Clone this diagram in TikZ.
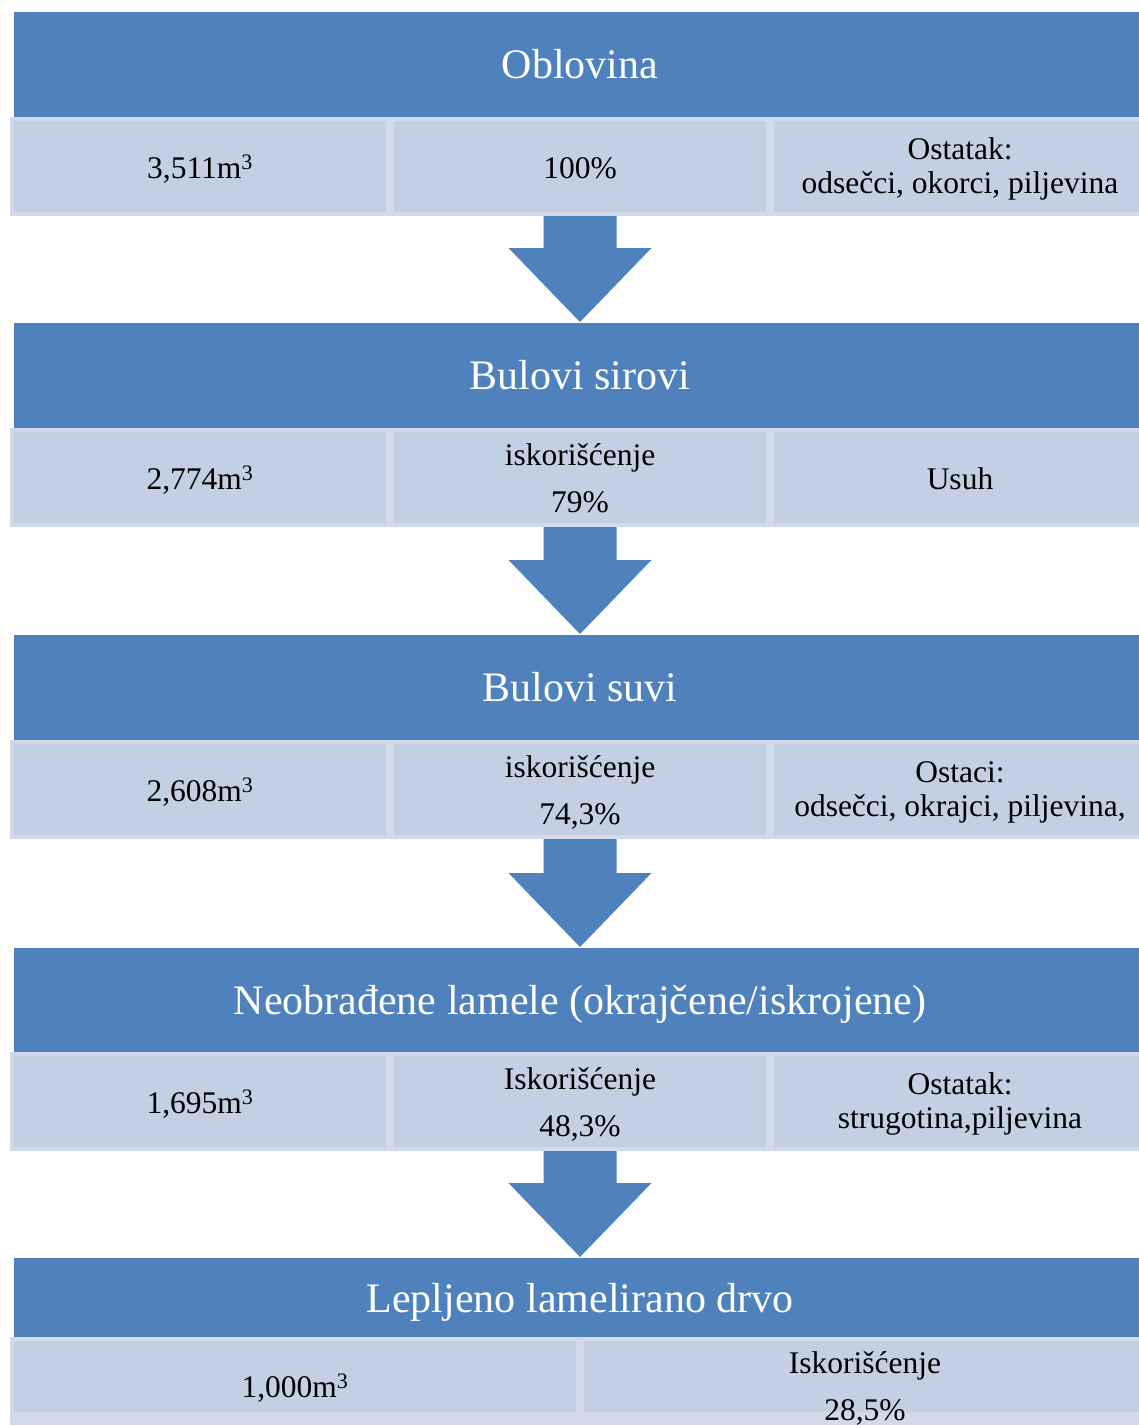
\documentclass[tikz,border=0pt]{standalone}
\usepackage{fontspec}
\setmainfont{Liberation Serif}
\usetikzlibrary{calc}
\definecolor{hdr}{HTML}{4F81BD}
\definecolor{cellfill}{HTML}{C3CFE2}
\definecolor{cellline}{HTML}{D2DAEA}
\begin{document}
\begin{tikzpicture}[x=1pt,y=-1pt,
  hdrbox/.style={fill=hdr, draw=none, anchor=north west, inner sep=0pt, outer sep=0pt,
    minimum width=1132pt, text=white, text height=34pt, text depth=6pt,
    font=\fontsize{42}{50}\selectfont},
  cellbox/.style={fill=cellfill, draw=cellline, line width=4pt, anchor=north west,
    inner sep=0pt, outer sep=0pt, minimum width=376pt, minimum height=95pt, align=center,
    font=\fontsize{31.5}{34}\selectfont, text height=32pt, text depth=8pt},
  twoline/.style={cellbox, text height=62pt, text depth=8pt},
  widecell/.style={cellbox, font=\fontsize{31.5}{47}\selectfont, text height=77pt, text depth=8pt},
  blockarrow/.style={fill=hdr, draw=none}]
\useasboundingbox (0,0) rectangle (1139,1425);
\clip (0,0) rectangle (1139,1425);

% row 1
\node[hdrbox, minimum height=105pt] (h1) at (14,12) {Oblovina};
\node[cellbox] (c11) at (12,119) {3,511m\textsuperscript{3}};
\node[cellbox] (c12) at (392,119) {100\%};
\node[twoline] (c13) at (772,119) {Ostatak:\\odsečci, okorci, piljevina};

% row 2
\node[hdrbox, minimum height=105pt] (h2) at (14,323) {Bulovi sirovi};
\node[cellbox] (c21) at (12,430) {2,774m\textsuperscript{3}};
\node[widecell] (c22) at (392,430) {iskorišćenje\\79\%};
\node[cellbox] (c23) at (772,430) {Usuh};

% row 3
\node[hdrbox, minimum height=105pt] (h3) at (14,635) {Bulovi suvi};
\node[cellbox] (c31) at (12,742) {2,608m\textsuperscript{3}};
\node[widecell] (c32) at (392,742) {iskorišćenje\\74,3\%};
\node[twoline] (c33) at (772,742) {Ostaci:\\odsečci, okrajci, piljevina,};

% row 4
\node[hdrbox, minimum height=104pt] (h4) at (14,948) {Neobrađene lamele (okrajčene/iskrojene)};
\node[cellbox] (c41) at (12,1054) {1,695m\textsuperscript{3}};
\node[widecell] (c42) at (392,1054) {Iskorišćenje\\48,3\%};
\node[twoline] (c43) at (772,1054) {Ostatak:\\strugotina,piljevina};

% row 5
\node[hdrbox, minimum height=80pt] (h5) at (14,1258) {Lepljeno lamelirano drvo};
\node[cellbox, minimum width=566pt, minimum height=93pt,
  path picture={\fill[cellline] (path picture bounding box.south west) rectangle ($(path picture bounding box.south east)+(0,-20)$);}]
  (c51) at (12,1339) {1,000m\textsuperscript{3}};
\node[widecell, minimum width=566pt, minimum height=93pt,
  path picture={\fill[cellline] (path picture bounding box.south west) rectangle ($(path picture bounding box.south east)+(0,-20)$);}]
  (c52) at (582,1339) {Iskorišćenje\\28,5\%};

% block arrows
\foreach \a/\b in {c12/h2, c22/h3, c32/h4, c42/h5}{
  \fill[blockarrow]
    ($(\a.south)+(-36.5,2)$) -- ($(\a.south)+(36.5,2)$)
    -- ($(\b.north)+(36.5,-75)$) -- ($(\b.north)+(71.5,-75)$)
    -- ($(\b.north)+(0,-1)$)
    -- ($(\b.north)+(-71.5,-75)$) -- ($(\b.north)+(-36.5,-75)$) -- cycle;
}
\end{tikzpicture}
\end{document}
